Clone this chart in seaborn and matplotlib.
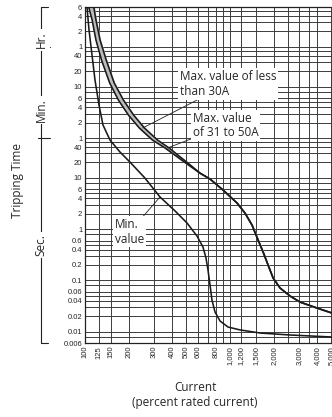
import matplotlib
matplotlib.use("Agg")
import matplotlib.pyplot as plt
import seaborn as sns
import pandas as pd

# tripping characteristics: current in % of rated current, time in seconds
max_time = [21580, 12030, 4900, 1995, 710, 330, 169, 94, 54.8, 38.3, 19.5, 12.4,
            9.5, 5.8, 3.24, 2.06, 1.2, 0.614, 0.358, 0.2, 0.111, 0.071, 0.0495,
            0.0378, 0.0289, 0.0231]
max30_current = [106, 112, 119, 130, 148, 170, 199, 237, 292, 357, 495, 621,
                 728, 895, 1117, 1268, 1418, 1561, 1690, 1829, 1982, 2214, 2595,
                 3041, 3981, 5050]
max50_current = [115, 119, 127, 140, 159, 184, 216, 257, 316, 380, 512, 621,
                 728, 895, 1117, 1268, 1418, 1561, 1690, 1829, 1982, 2214, 2595,
                 3041, 3981, 5050]

min_current = [103.2, 106.6, 111.8, 117.2, 124.9, 133, 148.7, 174.2, 204, 259,
               329, 418, 505, 592, 651, 683, 705, 728, 751, 788, 854, 969, 1172,
               1611, 2595, 5050]
min_time = [21580, 7670, 2495, 813, 264, 108, 54.8, 32, 20.4, 9.93, 4.24, 2.26,
            1.32, 0.734, 0.448, 0.273, 0.159, 0.0813, 0.0414, 0.0242, 0.0161,
            0.0123, 0.0108, 0.0094, 0.0086, 0.00785]

# axis ticks
x_ticks = [100, 125, 150, 200, 300, 400, 500, 600, 800, 1000, 1200, 1500, 2000,
           3000, 4000, 5000]
x_labels = ["100", "125", "150", "200", "300", "400", "500", "600", "800",
            "1,000", "1,200", "1,500", "2,000", "3,000", "4,000", "5,000"]
y_ticks = [21600, 14400, 7200, 3600, 2400, 1200, 600, 360, 240, 120, 60, 40, 20,
           10, 6, 4, 2, 1, 0.6, 0.4, 0.2, 0.1, 0.06, 0.04, 0.02, 0.01, 0.006]
y_labels = ["6", "4", "2", "1", "40", "20", "10", "6", "4", "2", "1", "40", "20",
            "10", "6", "4", "2", "1", "0.6", "0.4", "0.2", "0.1", "0.06", "0.04",
            "0.02", "0.01", "0.006"]

# grid lines of the chart paper
x_grid = [100, 125, 150, 200, 300, 400, 500, 600, 700, 800, 900, 1000, 1200, 1500,
          2000, 2500, 3000, 3500, 4000, 5000]
sec_grid = [0.006, 0.008, 0.01, 0.02, 0.03, 0.04, 0.05, 0.06, 0.08, 0.1, 0.2, 0.3,
            0.4, 0.5, 0.6, 0.8, 1, 2, 3, 4, 5, 6, 8, 10, 20, 30, 40, 50]
min_grid = [1, 2, 3, 4, 5, 6, 8, 10, 20, 30, 40, 50]
hr_grid = [1, 2, 3, 4, 5, 6]

sns.set_theme(style="white")
plt.rcParams["font.family"] = ["Open Sans", "DejaVu Sans"]
tick_font = ["Liberation Sans", "DejaVu Sans"]

fig = plt.figure(figsize=(3.32, 4.17), dpi=100)
ax = fig.add_axes([85 / 332, 74 / 417, 247 / 332, 336 / 417])
ax.set_xscale("log")
ax.set_yscale("log")

gc = "#3c3c3c"
for v in x_grid:
    ax.axvline(v, color=gc, lw=0.7, zorder=1)
for v in sec_grid + [m * 60 for m in min_grid] + [h * 3600 for h in hr_grid]:
    ax.axhline(v, color=gc, lw=0.7, zorder=1)

ax.fill_betweenx(max_time, max30_current, max50_current, color="#bdbdbd", zorder=2)
curves = {
    "max30": pd.DataFrame({"current": max30_current, "time": max_time}),
    "max50": pd.DataFrame({"current": max50_current, "time": max_time}),
    "min": pd.DataFrame({"current": min_current, "time": min_time}),
}
for name, df in curves.items():
    sns.lineplot(data=df, x="current", y="time", sort=False, estimator=None,
                 color="#1a1a1a", lw=1.15, ax=ax, zorder=3)

ax.set_xlim(100, 5051)
ax.set_ylim(0.006, 21600)
ax.set_xticks(x_ticks)
ax.set_xticklabels(x_labels, rotation=90, fontsize=5.5, family=tick_font)
ax.set_yticks(y_ticks)
ax.set_yticklabels(y_labels, fontsize=5.5, family=tick_font)
ax.minorticks_off()
ax.tick_params(length=0, pad=2)
ax.set_xlabel("")
ax.set_ylabel("")
for s in ax.spines.values():
    s.set_color("#222222")
    s.set_linewidth(0.9)

box = dict(boxstyle="square,pad=0.15", fc="white", ec="none")
arrow = dict(arrowstyle="-", color="#222222", lw=0.6, shrinkA=0, shrinkB=0)
ax.annotate("Max. value of less\nthan 30A", xy=(250, 94), xytext=(452, 680),
            ha="left", va="center", fontsize=8.5, linespacing=1.25, bbox=box,
            arrowprops=arrow, zorder=5)
ax.annotate("Max. value\nof 31 to 50A", xy=(370, 38.3), xytext=(556, 105),
            ha="left", va="center", fontsize=8.5, linespacing=1.15, bbox=box,
            arrowprops=arrow, zorder=5)
ax.annotate("Min.\nvalue", xy=(329, 4.24), xytext=(161, 0.88),
            ha="left", va="center", fontsize=8.5, linespacing=1.15, bbox=box,
            arrowprops=arrow, zorder=5)

# time unit bracket on the left
tr = matplotlib.transforms.blended_transform_factory(fig.transFigure, ax.transData)
bx = 41 / 332
ax.plot([bx, bx], [0.006, 21600], transform=tr, color="#222222", lw=0.8, clip_on=False)
ax.plot([bx, 48 / 332], [21600, 21600], transform=tr, color="#222222", lw=0.8, clip_on=False)
ax.plot([bx, 48 / 332], [0.006, 0.006], transform=tr, color="#222222", lw=0.8, clip_on=False)
for t in [3600, 60]:
    ax.plot([38 / 332, 50 / 332], [t, t], transform=tr, color="#222222", lw=0.8, clip_on=False)
wb = dict(boxstyle="square,pad=0.2", fc="white", ec="none")
for label, t in [("Hr.", 4900), ("Min.", 211), ("Sec.", 0.49)]:
    ax.text(bx, t, label, transform=tr, rotation=90, ha="center", va="center",
            fontsize=8.5, bbox=wb, zorder=5)

fig.text(18 / 332, 1 - 180 / 417, "Tripping Time", rotation=90, ha="center",
         va="center", fontsize=8.5)
fig.text(195 / 332, 1 - 395 / 417, "Current\n(percent rated current)", ha="center",
         va="center", fontsize=8.5, linespacing=1.15)

fig.savefig("out.png", dpi=100)
